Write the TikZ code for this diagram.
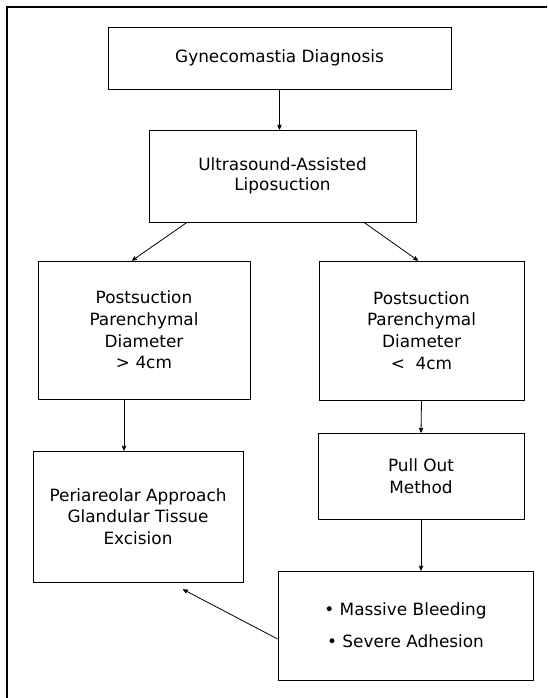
\documentclass[tikz,border=0pt]{standalone}
\usepackage{fontspec}
\setmainfont{DejaVu Sans}
\usepackage{tikz}
\usetikzlibrary{arrows}

\begin{document}
\begin{tikzpicture}
[->,>=stealth',x=1pt,y=-1pt,line width=0.8pt,
 font=\fontsize{16.9}{21.7}\selectfont]
\tikzstyle{box}=[draw=black,text=black,align=center,inner sep=0pt]
\useasboundingbox (0,0) rectangle (547,698);
\draw[-,line width=1.3pt] (547,7) -- (7,7) -- (7,698);

\node[box,minimum width=343pt,minimum height=62pt] (1) at (279.5,58) {Gynecomastia Diagnosis};
\node[box,minimum width=267pt,minimum height=92pt] (2) at (282.5,176) {Ultrasound-Assisted\\[-1.7pt]Liposuction};
\node[box,minimum width=212pt,minimum height=138pt] (3) at (144,330) {Postsuction\\Parenchymal\\Diameter\\> 4cm};
\node[box,minimum width=205pt,minimum height=139pt] (4) at (421.5,330.5) {Postsuction\\Parenchymal\\Diameter\\<\ \ 4cm};
\node[box,minimum width=210pt,minimum height=131pt] (5) at (138,516.5) {Periareolar Approach\\Glandular Tissue\\Excision};
\node[box,minimum width=206pt,minimum height=86pt] (6) at (421,476) {Pull Out\\Method};
\node[box,minimum width=255pt,minimum height=109pt] (7) at (405.5,625.5) {\textbullet\ Massive Bleeding\\[10pt]\textbullet\ Severe Adhesion};

\path
(1.south) edge ([xshift=-3pt]2.north)

([xshift=-95.5pt]2.south) edge ([xshift=-12pt]3.north)

([xshift=81.5pt]2.south) edge ([xshift=-3.5pt]4.north)

([xshift=-20pt]3.south) edge ([xshift=-14pt]5.north)

(4.south) edge (6.north)

(6.south) edge ([xshift=15.5pt]7.north)

([yshift=-13.5pt]7.west) edge ([xshift=45pt,yshift=-7pt]5.south)
;\end{tikzpicture}
\end{document}
